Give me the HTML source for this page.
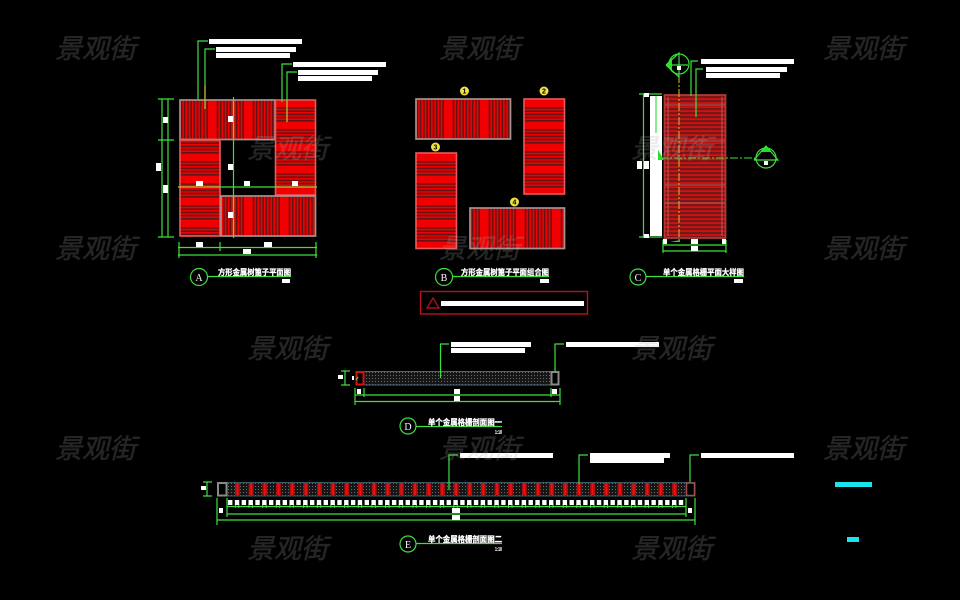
<!DOCTYPE html>
<html><head><meta charset="utf-8"><style>
html,body{margin:0;padding:0;background:#000;width:960px;height:600px;overflow:hidden}
svg{display:block;filter:blur(.35px)}
.g{stroke:#3ee03e;stroke-width:1.2;fill:none}
.w{fill:#fff}
.t{font-family:"Liberation Sans","Noto Sans CJK SC",sans-serif;font-weight:bold;font-size:8.2px;fill:#fff;stroke:#fff;stroke-width:.3}
.c{font-family:"Liberation Serif","Noto Serif CJK SC",serif;font-size:10px;fill:#fff;text-anchor:middle}
.y{font-family:"Liberation Sans",sans-serif;font-size:7px;font-weight:bold;fill:#000;text-anchor:middle}
.mm text{font-family:"Liberation Sans","Noto Sans CJK SC",sans-serif;font-weight:normal;font-style:italic;font-size:27px;fill:#aaa;stroke:#aaa;stroke-width:.5}
.p{stroke:#e85a5a;stroke-width:1.6}
.q{stroke:#a89090;stroke-width:1.7}
</style></head><body>
<svg width="960" height="600" viewBox="0 0 960 600" xmlns="http://www.w3.org/2000/svg">
<defs>
<pattern id="v" patternUnits="userSpaceOnUse" width="36" height="10" x="180">
<rect width="36" height="10" fill="#f00000"/>
<path d="M1.5 0V10M4.700 0V10M7.900 0V10M11.100 0V10M14.300 0V10M17.500 0V10M20.700 0V10M23.900 0V10M27.100 0V10" stroke="#641414" stroke-width="1.600"/>
</pattern>
<pattern id="v2" patternUnits="userSpaceOnUse" width="36" height="10" x="416">
<rect width="36" height="10" fill="#f00000"/>
<path d="M1.5 0V10M4.700 0V10M7.900 0V10M11.100 0V10M14.300 0V10M17.500 0V10M20.700 0V10M23.900 0V10M27.100 0V10" stroke="#641414" stroke-width="1.600"/>
</pattern>
<pattern id="h" patternUnits="userSpaceOnUse" width="10" height="22" y="106.500">
<rect width="10" height="22" fill="#f00000"/>
<path d="M0 1.500H10M0 4.700H10M0 7.900H10M0 11.100H10M0 14.300H10" stroke="#641414" stroke-width="1.600"/>
</pattern>
<pattern id="h3" patternUnits="userSpaceOnUse" width="10" height="22" y="160.500">
<rect width="10" height="22" fill="#f00000"/>
<path d="M0 1.500H10M0 4.700H10M0 7.900H10M0 11.100H10M0 14.300H10" stroke="#641414" stroke-width="1.600"/>
</pattern>
<pattern id="hc" patternUnits="userSpaceOnUse" width="10" height="4" y="96">
<rect width="10" height="4" fill="#e00c0c"/>
<rect y="0" width="10" height="2.300" fill="#741818"/>
</pattern>
<pattern id="dot" patternUnits="userSpaceOnUse" width="3" height="3">
<rect width="3" height="3" fill="#161616"/>
<rect width="1" height="1" fill="#6a6a6a"/>
</pattern>
<pattern id="rb" patternUnits="userSpaceOnUse" width="13.660" height="14" x="235" y="482">
<rect x="0" y="1" width="5" height="12" fill="#a80f0f"/>
<rect x="1.600" y="1" width="1.800" height="12" fill="#f01010"/>
</pattern>
<pattern id="wb" patternUnits="userSpaceOnUse" width="6.830" height="5" x="228" y="500">
<rect width="4.400" height="5" fill="#fff"/>
</pattern>
<pattern id="tk" patternUnits="userSpaceOnUse" width="13.660" height="4" x="234.800" y="504">
<path d="M0.500 0V4M4 0V4" stroke="#3ee03e" stroke-width="1"/>
</pattern>
</defs>

<!-- A -->
<g>
<rect x="180" y="100" width="95" height="39.500" fill="url(#v)" class="q"/>
<rect x="275.500" y="100" width="40" height="95" fill="url(#h)" class="p"/>
<rect x="180" y="140" width="40" height="96" fill="url(#h3)" class="p"/>
<rect x="221" y="196" width="94.500" height="40" fill="url(#v)" class="q"/>
<path class="g" d="M162 99V237M168 99V237M158 99H174M158 140H174M158 237H174M178 187H317M233.500 97V238M179 242V258M220 242V251M316 242V258M178 247.500H317M178 255H317M198 100V41H208M205 109V49H215M282 102V64H292M287 122V72H297"/>
<path d="M205 85V109M287 100V122M178 187H220M275 187H317M233.500 100V138M233.500 196V236" stroke="#c8b030" stroke-width="1.200" fill="none"/>
<path class="w" d="M209 39h93v5h-93zM216 47h80v5h-80zM216 53h74v5h-74zM293 62h93v5h-93zM298 70h80v5h-80zM298 76h74v5h-74zM156 163h5v8h-5zM163 117h5v6h-5zM163 185h5v8h-5zM228 116h5v6h-5zM228 164h5v6h-5zM228 212h5v6h-5zM196 181h7v5h-7zM244 181h6v5h-6zM292 181h6v5h-6zM196 242h7v5h-7zM264 242h8v5h-8zM243 249h8v5h-8zM282 279h8v4h-8z"/>
<circle cx="199" cy="277" r="8.500" class="g"/><text x="199" y="281" class="c">A</text>
<path class="g" d="M207 276.500H291"/>
<text x="218" y="275" class="t" textLength="73" lengthAdjust="spacingAndGlyphs">方形金属树篦子平面图</text>
</g>

<!-- B -->
<g>
<rect x="416" y="99" width="94.500" height="40" fill="url(#v2)" class="q"/>
<rect x="524" y="99" width="40.500" height="95" fill="url(#h)" class="p"/>
<rect x="416" y="153" width="40.500" height="95.500" fill="url(#h3)" class="p"/>
<rect x="470" y="208" width="94.500" height="40.500" fill="url(#v2)" class="q"/>
<circle cx="464.500" cy="91" r="4.500" fill="#f0e040"/><text x="464.500" y="93.500" class="y">1</text>
<circle cx="544" cy="91" r="4.500" fill="#f0e040"/><text x="544" y="93.500" class="y">2</text>
<circle cx="435.500" cy="147" r="4.500" fill="#f0e040"/><text x="435.500" y="149.500" class="y">3</text>
<circle cx="514.500" cy="202" r="4.500" fill="#f0e040"/><text x="514.500" y="204.500" class="y">4</text>
<circle cx="444" cy="277" r="8.500" class="g"/><text x="444" y="281" class="c">B</text>
<path class="g" d="M452 276.500H549"/>
<text x="461" y="275" class="t" textLength="88" lengthAdjust="spacingAndGlyphs">方形金属树篦子平面组合图</text>
<rect x="540" y="279" width="9" height="4" class="w"/>
<rect x="420.500" y="291.500" width="167" height="22.500" fill="none" stroke="#b81020" stroke-width="1.400"/>
<path d="M433 298L427 308H439Z" fill="none" stroke="#a81020" stroke-width="1.400"/>
<rect x="441" y="301" width="143" height="5" class="w"/>
</g>

<!-- C -->
<g>
<rect x="664.500" y="95" width="61" height="143" fill="url(#hc)" stroke="#b03838" stroke-width="1.800"/>
<path d="M668 97V236M722 97V236M665 105H725M665 141H725M665 185H725M665 203H725" stroke="#c05858" stroke-width="1" fill="none"/>
<rect x="650" y="96" width="12" height="140" fill="#fff"/>
<path class="g" d="M643.500 94V238M639 94H662M639 237H662M656 96V133M663 251H726M663 245H726M663 240V253M726 240V253M691 96V61H698M696 117V69H703"/>
<path d="M660 158H755" stroke="#3ee03e" stroke-width="1.100" stroke-dasharray="8 2 2 2" fill="none"/>
<path d="M679 75V240" stroke="#c8b030" stroke-width="1.100" stroke-dasharray="8 2 2 2" fill="none"/>
<path d="M658 150L664 160H658Z" fill="#20e020"/>
<path d="M670 242L680 240V242Z" fill="#20e020"/>
<circle cx="679" cy="64" r="10" class="g"/>
<path d="M666 65L672 58V72Z" fill="#20e020"/>
<path class="g" d="M666 65L679 53V77L666 65M669 65H688"/>
<rect x="677" y="66" width="4" height="4" class="w"/>
<circle cx="766" cy="158" r="10" class="g"/>
<path d="M766 146L760 152H772Z" fill="#20e020"/>
<path class="g" d="M754 160L766 146L778 160H754"/>
<rect x="764" y="161" width="4" height="4" class="w"/>
<path class="w" d="M701 59h93v5h-93zM706 67h81v5h-81zM706 73h74v5h-74zM637 161h5v8h-5zM644 161h5v8h-5zM644 93h5v4h-5zM644 234h5v4h-5zM663 239h4v5h-4zM722 239h4v5h-4zM691 239h7v5h-7zM691 246h7v5h-7zM734 279h9v4h-9z"/>
<circle cx="638" cy="277" r="8" class="g"/><text x="638" y="281" class="c">C</text>
<path class="g" d="M646 276.500H744"/>
<text x="663" y="275" class="t" textLength="81" lengthAdjust="spacingAndGlyphs">单个金属格栅平面大样图</text>
</g>

<!-- D -->
<g>
<rect x="356" y="371.500" width="203" height="13.500" fill="url(#dot)" stroke="#4a6478" stroke-width="1"/>
<rect x="356.500" y="372" width="7" height="12.500" fill="#000" stroke="#d01414" stroke-width="2"/>
<rect x="551.500" y="372" width="7" height="12.500" fill="#000" stroke="#8a8a8a" stroke-width="2"/>
<path class="g" d="M440.500 378V344H449M555 371V344H564M355 388V405M364 388V397M551 388V397M560 388V405M355 395H560M355 401.500H560M345 371V385M341 371H350M341 385H350M356 380L358 377"/>
<path class="w" d="M451 342h80v5h-80zM451 348h74v5h-74zM566 342h93v5h-93zM357 389h4v5h-4zM552 389h5v5h-5zM454 389h6v5h-6zM454 396h6v5h-6zM338 375h5v4h-5zM352 376h2v4h-2z"/>
<circle cx="408" cy="426" r="8" class="g"/><text x="408" y="430" class="c">D</text>
<path class="g" d="M416 426.500H502"/>
<text x="428" y="425" class="t" textLength="74" lengthAdjust="spacingAndGlyphs">单个金属格栅剖面图一</text>
<text x="495" y="434" class="t" style="font-size:5px;stroke-width:.1" textLength="7" lengthAdjust="spacingAndGlyphs">1:10</text>
</g>

<!-- E -->
<g>
<rect x="218" y="482.500" width="477" height="13.500" fill="url(#dot)" stroke="#3a5a68" stroke-width="1"/>
<rect x="235" y="482" width="445" height="14" fill="url(#rb)"/>
<rect x="218" y="483" width="8.500" height="12.500" fill="#000" stroke="#8a8a8a" stroke-width="2"/>
<rect x="686.500" y="483" width="8" height="12.500" fill="#000" stroke="#a05050" stroke-width="1.500"/>
<rect x="234.800" y="504" width="448" height="4" fill="url(#tk)"/>
<rect x="228" y="500" width="458" height="5" fill="url(#wb)"/>
<path class="g" d="M227 506.500H686M227 514H686M217 520H695M217 498V525M227 498V517M686 498V517M695 498V525M207 482V496M203 482H212M203 496H212M449 490V455H458M579 484V455H588M690 482V455H699"/>
<path class="w" d="M460 453h93v5h-93zM590 453h80v5h-80zM590 458h74v5h-74zM701 453h93v5h-93zM219 508h4v5h-4zM452 508h8v5h-8zM452 515h8v5h-8zM688 508h4v5h-4zM201 486h5v4h-5z"/>
<circle cx="408" cy="544" r="8" class="g"/><text x="408" y="548" class="c">E</text>
<path class="g" d="M416 543.500H502"/>
<text x="428" y="542" class="t" textLength="74" lengthAdjust="spacingAndGlyphs">单个金属格栅剖面图二</text>
<text x="495" y="551" class="t" style="font-size:5px;stroke-width:.1" textLength="7" lengthAdjust="spacingAndGlyphs">1:10</text>
</g>

<rect x="835" y="482" width="37" height="5" fill="#18e4ec"/>
<rect x="847" y="537" width="12" height="5" fill="#18e4ec"/>

<!-- watermarks -->
<g class="mm" opacity=".22">
<text x="55" y="58">景观街</text>
<text x="439" y="58">景观街</text>
<text x="823" y="58">景观街</text>
<text x="247" y="158">景观街</text>
<text x="631" y="158">景观街</text>
<text x="55" y="258">景观街</text>
<text x="439" y="258">景观街</text>
<text x="823" y="258">景观街</text>
<text x="247" y="358">景观街</text>
<text x="631" y="358">景观街</text>
<text x="55" y="458">景观街</text>
<text x="439" y="458">景观街</text>
<text x="823" y="458">景观街</text>
<text x="247" y="558">景观街</text>
<text x="631" y="558">景观街</text>
</g>
</svg>
</body></html>
